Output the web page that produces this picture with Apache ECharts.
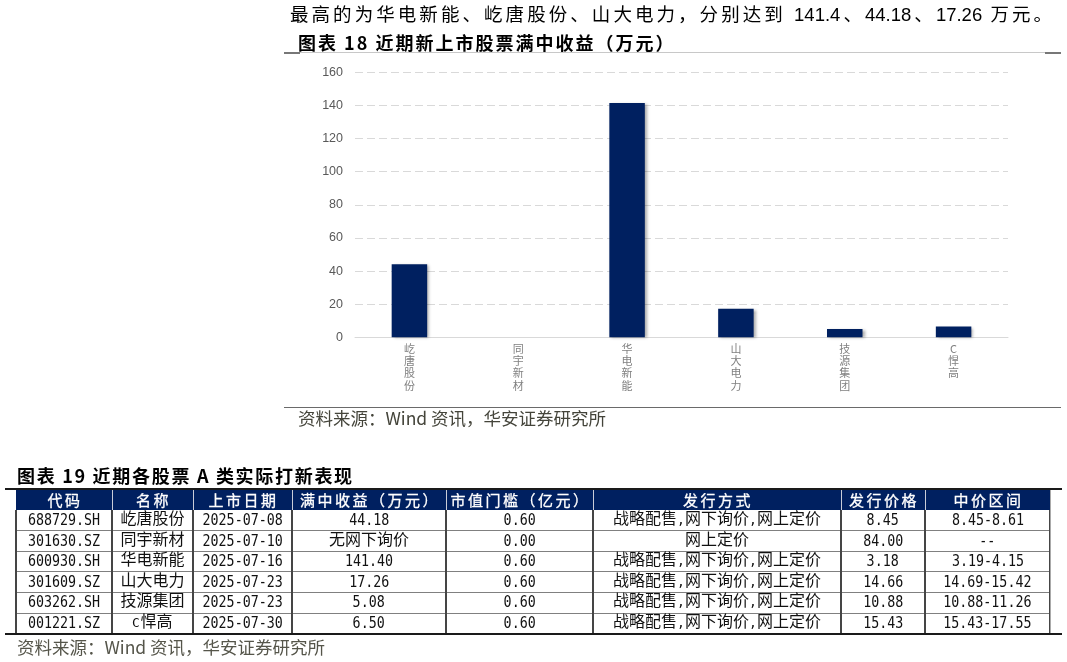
<!DOCTYPE html>
<html><head><meta charset="utf-8">
<script src="https://cdn.jsdelivr.net/npm/echarts/dist/echarts.min.js"></script>
<style>
@font-face{font-family:'MonoNum';src:local('DejaVu Sans Mono'),local('DejaVuSansMono');size-adjust:83%;unicode-range:U+0020-007E;}
html,body{margin:0;padding:0;background:#fff;}
body{width:1067px;height:662px;position:relative;overflow:hidden;font-family:'Noto Sans CJK SC',sans-serif;color:#000;}
#chart{position:absolute;left:0;top:0;width:1067px;height:662px;}
.a{position:absolute;white-space:nowrap;}
.title{font-weight:bold;font-size:18px;letter-spacing:1.7px;line-height:24px;}
.src{font-size:17.5px;line-height:24px;color:#44443a;}
.cell{position:absolute;text-align:center;white-space:nowrap;font-size:16px;font-family:'MonoNum','Noto Sans CJK SC',sans-serif;color:#111;}
.num{display:inline-block;font-family:'DejaVu Sans Mono',monospace;font-size:15.5px;transform:scaleX(0.86);transform-origin:center;}
.hcell{position:absolute;text-align:center;white-space:nowrap;font-size:15px;letter-spacing:2.5px;color:#fff;-webkit-text-stroke:0.3px #fff;font-family:'Noto Sans CJK SC',sans-serif;}
.ln{position:absolute;}
</style>
</head><body>
<div id="chart"></div>
<div id="overlay"></div>
<script>
// ---- chart data ----
const categories = ['屹唐股份','同宇新材','华电新能','山大电力','技源集团','C悍高'];
const returns = [44.18, 0, 141.4, 17.26, 5.08, 6.5];
const yMin = 0, yMax = 160, yStep = 20;

// ---- table data ----
const headers = ['代码','名称','上市日期','满中收益（万元）','市值门槛（亿元）','发行方式','发行价格','中价区间'];
const codes = ['688729.SH','301630.SZ','600930.SH','301609.SZ','603262.SH','001221.SZ'];
const names = ['屹唐股份','同宇新材','华电新能','山大电力','技源集团','C悍高'];
const listDates = ['2025-07-08','2025-07-10','2025-07-16','2025-07-23','2025-07-23','2025-07-30'];
const returnText = ['44.18','无网下询价','141.40','17.26','5.08','6.50'];
const thresholds = ['0.60','0.00','0.60','0.60','0.60','0.60'];
const methods = ['战略配售,网下询价,网上定价','网上定价','战略配售,网下询价,网上定价','战略配售,网下询价,网上定价','战略配售,网下询价,网上定价','战略配售,网下询价,网上定价'];
const prices = ['8.45','84.00','3.18','14.66','10.88','15.43'];
const ranges = ['8.45-8.61','--','3.19-4.15','14.69-15.42','10.88-11.26','15.43-17.55'];

// ---- texts ----
const introText = '最高的为华电新能、屹唐股份、山大电力，分别达到 141.4、44.18、17.26 万元。';
const title18 = '图表 18 近期新上市股票满中收益（万元）';
const title19 = '图表 19 近期各股票 A 类实际打新表现';
const sourceText = '资料来源：Wind 资讯，华安证券研究所';

const ov = document.getElementById('overlay');
function add(cls, css, text){
  const d = document.createElement('div');
  d.className = cls;
  d.style.cssText = css;
  if (text !== undefined) d.textContent = text;
  ov.appendChild(d);
  return d;
}

// intro paragraph
add('a', "left:290px;top:2px;width:762px;font-size:18.5px;line-height:26px;text-align:justify;text-align-last:justify;font-family:'Liberation Sans','Noto Sans CJK SC',sans-serif;", introText);
// title 18
add('a title', 'left:298px;top:30px;letter-spacing:2px;', title18);
// line under title 18
add('ln', 'left:284px;top:52px;width:777px;height:1px;background:#c8c8c8;');
add('ln', 'left:284px;top:52px;width:16px;height:1.5px;background:#777;');
add('ln', 'left:1045px;top:52px;width:16px;height:1.5px;background:#777;');
// line under chart
add('ln', 'left:284px;top:406.5px;width:777px;height:1.5px;background:#6a6a6a;');
add('a src', 'left:298px;top:406px;', sourceText);

// title 19
add('a title', 'left:17px;top:463px;letter-spacing:1.7px;', title19);

// table
const colX = [16,112,193,292,446,593,841,925,1050];
const headTop = 489, headH = 21, rowH = 20.6;
const bodyTop = headTop + headH;
const nRows = codes.length;
add('ln', 'left:16px;top:'+headTop+'px;width:'+(colX[8]-colX[0])+'px;height:'+headH+'px;background:#002060;');
for (let i=1;i<colX.length-1;i++){
  add('ln', 'left:'+(colX[i]-0.5)+'px;top:'+headTop+'px;width:1px;height:'+headH+'px;background:#c9ccd8;');
}
headers.forEach((h,i)=>{
  add('hcell','left:'+(colX[i]+1)+'px;width:'+(colX[i+1]-colX[i])+'px;top:'+headTop+'px;height:'+headH+'px;line-height:'+headH+'px;', h);
});
const cols = [codes,names,listDates,returnText,thresholds,methods,prices,ranges];
for (let r=0;r<nRows;r++){
  const top = bodyTop + r*rowH;
  if (r>0) add('ln','left:16px;top:'+(top-0.5)+'px;width:'+(colX[8]-colX[0])+'px;height:1px;background:#808080;');
  cols.forEach((c,i)=>{
    const d = add('cell','left:'+colX[i]+'px;width:'+(colX[i+1]-colX[i])+'px;top:'+top+'px;height:'+rowH+'px;line-height:'+rowH+'px;');
    const txt = c[r];
    if (/^[\x20-\x7e]+$/.test(txt)) {
      const s = document.createElement('span');
      s.className = 'num';
      s.textContent = txt;
      d.appendChild(s);
    } else {
      d.textContent = txt;
    }
  });
}
for (let i=0;i<colX.length;i++){
  add('ln','left:'+(colX[i]-0.75)+'px;top:'+bodyTop+'px;width:1.5px;height:'+(nRows*rowH)+'px;background:#454545;');
}
add('ln','left:1050px;top:'+headTop+'px;width:1px;height:'+(headH+nRows*rowH)+'px;background:#aaa;');
add('ln','left:5px;top:'+(headTop-1.5)+'px;width:1057px;height:2px;background:#1a1a1a;');
add('ln','left:5px;top:'+(bodyTop+nRows*rowH-1)+'px;width:1057px;height:2px;background:#1a1a1a;');
add('a src','left:17px;top:635px;color:#55554a;', sourceText);

// ---- ECharts bar chart ----
const chart = echarts.init(document.getElementById('chart'), null, {renderer:'canvas'});
chart.setOption({
  animation:false,
  backgroundColor:'transparent',
  grid:{left:355,right:59,top:72.3,bottom:324.7,containLabel:false},
  xAxis:{
    type:'category', data:categories,
    axisTick:{show:false},
    axisLine:{lineStyle:{color:'#d9d9d9',width:1}},
    axisLabel:{interval:0,margin:5,color:'#808080',fontSize:11,lineHeight:12.3,
      fontFamily:'Noto Sans CJK SC',formatter:v=>v.split('').join('\n')}
  },
  yAxis:{
    type:'value', min:yMin, max:yMax, interval:yStep,
    axisLine:{show:false}, axisTick:{show:false},
    axisLabel:{margin:12,color:'#595959',fontSize:12.5,fontFamily:'Liberation Sans'},
    splitLine:{lineStyle:{color:'#d9d9d9',type:[8,4],width:1}}
  },
  series:[{
    type:'bar', data:returns, barWidth:35.5,
    itemStyle:{color:'#002060',shadowColor:'rgba(0,0,0,0.35)',shadowBlur:3,shadowOffsetX:2,shadowOffsetY:1}
  }]
});
</script>
</body></html>
